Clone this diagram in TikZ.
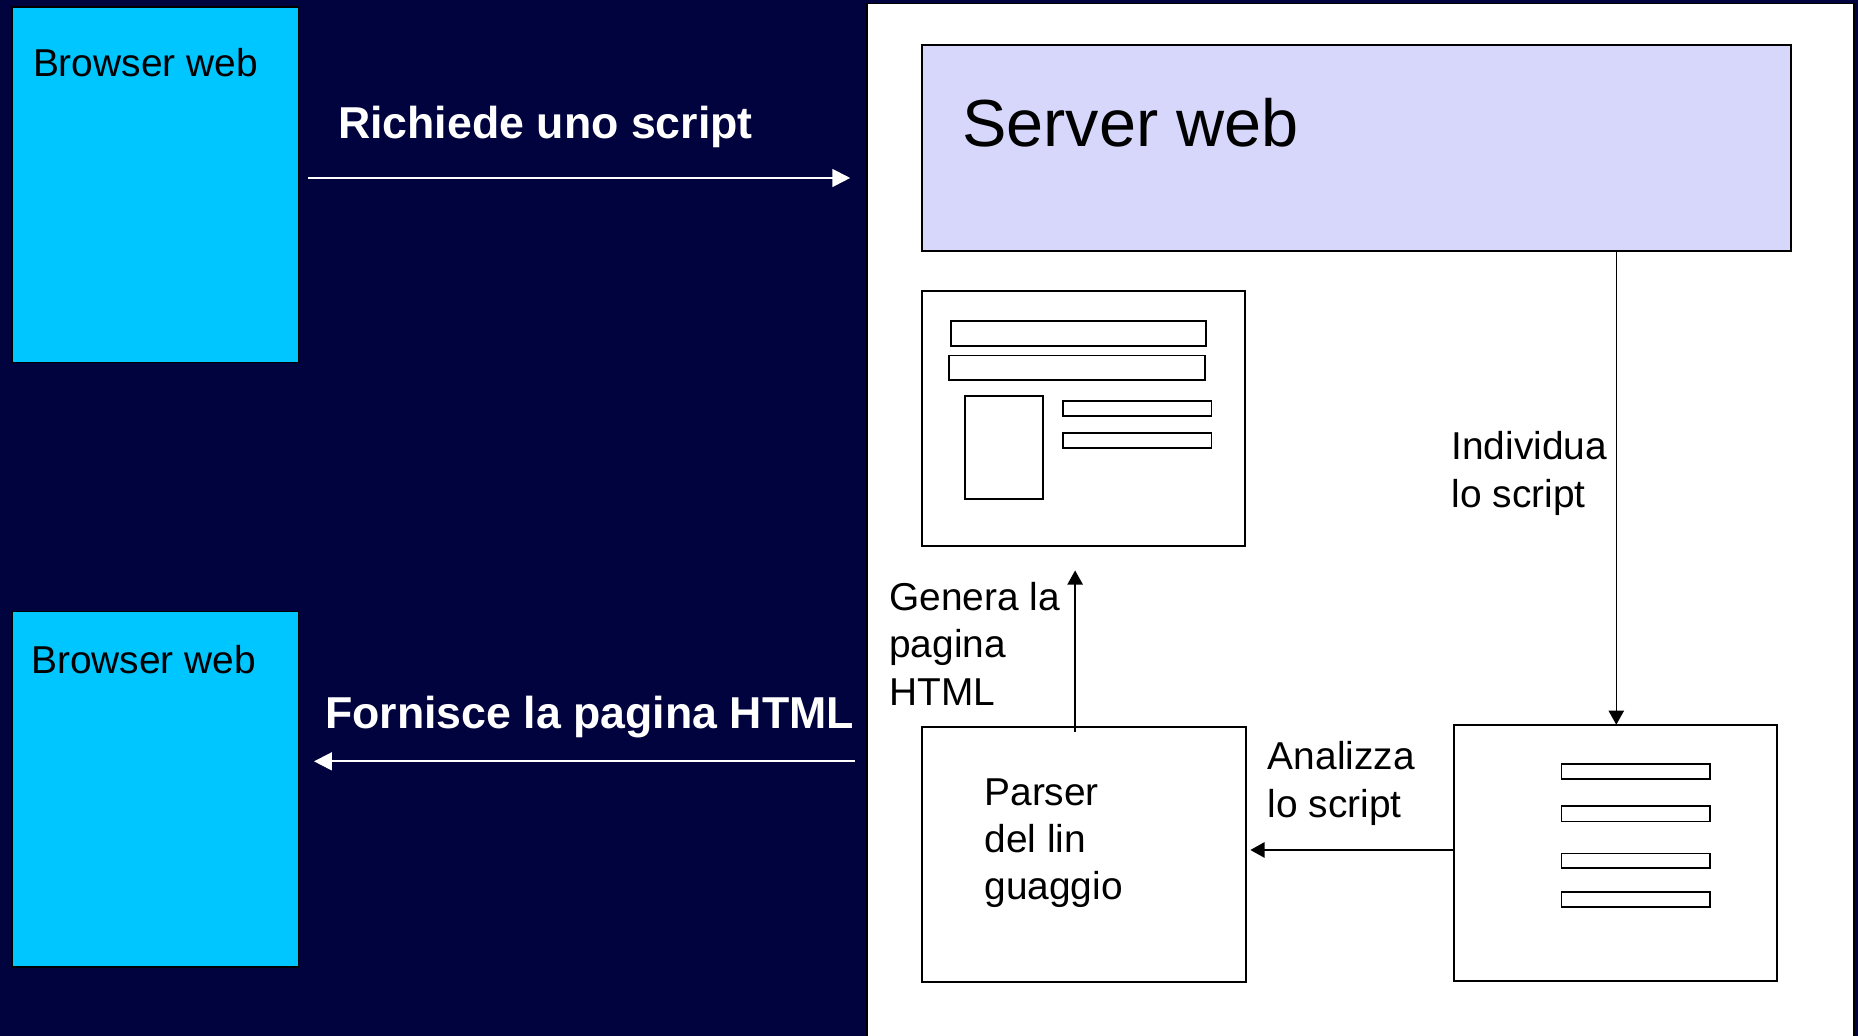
\documentclass[tikz,border=0pt]{standalone}
\usepackage{fontspec}
\setmainfont{Liberation Sans}
\usetikzlibrary{arrows.meta}
\definecolor{navy}{RGB}{0,3,62}
\definecolor{cyanbox}{RGB}{0,198,255}
\definecolor{lav}{RGB}{214,215,250}
\begin{document}
\begin{tikzpicture}[x=0.5pt,y=-0.5pt,
  box/.style={draw=black, line width=0.85pt, anchor=north west, inner sep=0pt, outer sep=0pt},
  browser/.style={box, fill=cyanbox, line width=0.7pt, minimum width=121pt, minimum height=150pt},
  label/.style={anchor=base west, inner sep=0pt, align=left, font=\fontsize{16.4}{20}\selectfont},
  btitle/.style={anchor=base west, inner sep=0pt, text=white, font=\fontsize{18.85}{22}\selectfont\bfseries},
  warrow/.style={draw=white, line width=0.8pt, -{Triangle[length=7.5pt,width=7.5pt]}},
  barrow/.style={draw=black, line width=0.65pt, -{Triangle[length=6pt,width=6.5pt]}},
  bar/.style={draw=black, line width=0.75pt}
]
\path[use as bounding box, fill=navy] (0,0) rectangle (1568,874);
% white server side panel
\node[box, fill=white, line width=0.6pt, minimum width=416.5pt, minimum height=440pt] (panel) at (731.5,3) {};
% browsers
\node[browser] (b1) at (10,6) {};
\node[browser] (b2) at (10,516) {};
\node[label] (b1t) at (27.5,64.7) {Browser web};
\node[label] (b2t) at (26,568) {Browser web};
% request / response arrows
\node[btitle] (req) at (285,116.7) {Richiede uno script};
\node[btitle] (resp) at (274,615) {Fornisce la pagina HTML};
\coordinate (r1s) at (260,150.2);
\coordinate (r1e) at (717.5,150.2);
\coordinate (r2s) at (721.5,642.5);
\coordinate (r2e) at (265,642.5);
\draw[warrow] (r1s) -- (r1e);
\draw[warrow] (r2s) -- (r2e);
% server web
\node[box, fill=lav, minimum width=366.6pt, minimum height=87.1pt] (server) at (778.3,37.7) {};
\node[anchor=base west, inner sep=0pt, font=\fontsize{28.1}{34}\selectfont] (servert) at (811.6,124) {Server web};
% html page icon
\node[box, minimum width=136.25pt, minimum height=107.65pt] (page) at (778.3,245.7) {};
\draw[bar] (802.4,271) rectangle (1018,292);
\draw[bar] (801,300) rectangle (1017,321);
\draw[bar] (814.5,334) rectangle (880,421);
\draw[bar] (897.4,338.5) rectangle (1022.4,351);
\draw[bar] (897.4,365.6) rectangle (1022.4,378);
% script icon
\node[box, minimum width=136.5pt, minimum height=108pt] (script) at (1227,611.6) {};
\draw[bar] (1317.8,644.5) rectangle (1443,657.5);
\draw[bar] (1317.8,680.4) rectangle (1443,693.3);
\draw[bar] (1317.8,720.2) rectangle (1443,732.8);
\draw[bar] (1317.8,752.8) rectangle (1443,765.7);
% parser
\node[box, minimum width=136.4pt, minimum height=107.7pt] (parser) at (778.4,613.7) {};
\node[label] (parsert) at (830.4,759.5) {Parser\\del lin\\guaggio};
% connectors
\coordinate (vx) at (1364,0);
\draw[barrow] (server.south -| vx) -- (script.north -| vx);
\node[label] (indiv) at (1224.6,428) {Individua\\lo script};
\draw[barrow] (script.west |- 0,717.3) -- ([xshift=2pt]parser.east |- 0,717.3);
\node[label] (anal) at (1069.6,689.5) {Analizza\\lo script};
\coordinate (gs) at (907.3,618);
\coordinate (ge) at (907.3,481.4);
\draw[barrow] (gs) -- (ge);
\node[label] (gen) at (750,595.2) {Genera la\\pagina\\HTML};
\end{tikzpicture}
\end{document}
